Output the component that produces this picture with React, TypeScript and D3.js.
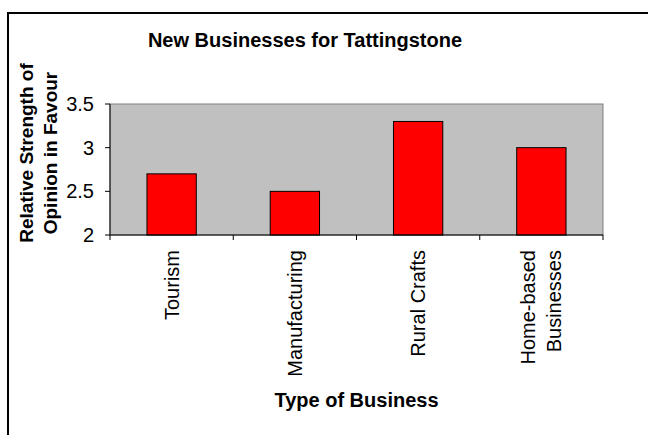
import React from "react";
import * as d3 from "d3";

const categories: string[][] = [["Tourism"], ["Manufacturing"], ["Rural Crafts"], ["Home-based", "Businesses"]];
const values: number[] = [2.7, 2.5, 3.3, 3.0];
const yTicks: number[] = [2, 2.5, 3, 3.5];
const title = "New Businesses for Tattingstone";
const yTitle: string[] = ["Relative Strength of", "Opinion  in Favour"];
const xTitle = "Type of Business";

const W = 648;
const H = 435;
const plot = { left: 110, right: 603, top: 104, bottom: 235 };
const FONT = "'Liberation Sans', Arial, sans-serif";

export default function App() {
  const x = d3
    .scaleBand<number>()
    .domain(d3.range(categories.length))
    .range([plot.left, plot.right])
    .paddingInner(0.6)
    .paddingOuter(0.3);
  const xb = d3.scaleBand<number>().domain(d3.range(categories.length)).range([plot.left, plot.right]);
  const y = d3.scaleLinear().domain([2, 3.5]).range([plot.bottom, plot.top]);

  return (
    <svg width={W} height={H} style={{ position: "fixed", left: 0, top: 0, background: "#fff" }} fontFamily={FONT}>
      <rect x={0} y={0} width={W} height={H} fill="#fff" />
      <rect x={8} y={13} width={W + 20} height={H + 20} fill="none" stroke="#000" strokeWidth={2} />
      <text x={305} y={47} textAnchor="middle" fontSize={20} fontWeight="bold">
        {title}
      </text>
      <rect
        x={plot.left}
        y={plot.top}
        width={plot.right - plot.left}
        height={plot.bottom - plot.top}
        fill="#c0c0c0"
        stroke="#808080"
        strokeWidth={1}
      />
      {values.map((v, i) => (
        <rect
          key={i}
          x={x(i)}
          y={y(v)}
          width={x.bandwidth()}
          height={y(2) - y(v)}
          fill="#ff0000"
          stroke="#000"
          strokeWidth={1}
        />
      ))}
      <line x1={plot.left} x2={plot.left} y1={plot.top} y2={plot.bottom} stroke="#000" />
      <line x1={plot.left} x2={plot.right} y1={plot.bottom} y2={plot.bottom} stroke="#000" />
      {yTicks.map((t) => (
        <g key={t}>
          <line x1={plot.left - 5} x2={plot.left} y1={y(t)} y2={y(t)} stroke="#000" />
          <text x={94} y={y(t)} dy="0.35em" textAnchor="end" fontSize={20}>
            {String(t)}
          </text>
        </g>
      ))}
      {d3.range(categories.length + 1).map((i) => {
        const px = i < categories.length ? (xb(i) as number) : plot.right;
        return <line key={i} x1={px} x2={px} y1={plot.bottom} y2={plot.bottom + 5} stroke="#000" />;
      })}
      {categories.map((lines, i) => {
        const cx = (xb(i) as number) + xb.bandwidth() / 2;
        return lines.map((ln, j) => {
          const off = (j - (lines.length - 1) / 2) * 26;
          return (
            <text
              key={i + "-" + j}
              transform={`translate(${cx + off + 7},250) rotate(-90)`}
              textAnchor="end"
              fontSize={20}
            >
              {ln}
            </text>
          );
        });
      })}
      <text x={(plot.left + plot.right) / 2} y={407} textAnchor="middle" fontSize={20} fontWeight="bold">
        {xTitle}
      </text>
      {yTitle.map((ln, j) => (
        <text
          key={j}
          transform={`translate(${33 + j * 24},153) rotate(-90)`}
          textAnchor="middle"
          fontSize={19}
          fontWeight="bold"
        >
          {ln}
        </text>
      ))}
    </svg>
  );
}
